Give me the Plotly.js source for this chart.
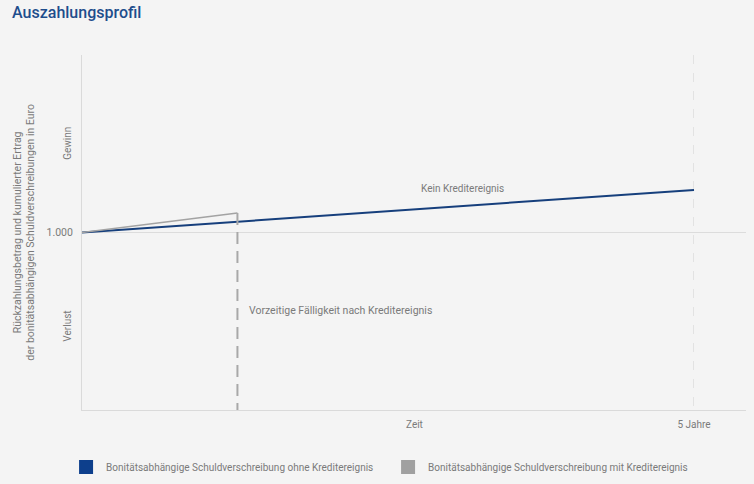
<!DOCTYPE html>
<html>
<head>
<meta charset="utf-8">
<script src="https://cdn.plot.ly/plotly-3.0.1.min.js"></script>
<style>html,body{margin:0;padding:0;background:#f4f4f4;}#chart{width:754px;height:484px;}</style>
</head>
<body>
<div id="chart"></div>
<script>
// Data
const years = [0, 5];
const noEventValues = [1000, 1240];
const eventYears = [0, 1.27];
const eventValues = [1000, 1110];
const earlyRedemptionYears = [1.27, 1.27];
const earlyRedemptionValues = [1110, 0];
const yTickVals = [1000];
const yTickText = ['1.000'];
const xTickVals = [5];
const xTickText = ['5 Jahre'];
const seriesNames = ['Bonitätsabhängige Schuldverschreibung ohne Kreditereignis', 'Bonitätsabhängige Schuldverschreibung mit Kreditereignis'];

const FONT = 'Roboto, Arial, sans-serif';
const BLUE = '#163f7c';
const GREY = '#a3a3a3';
const TXT = '#7a7a7a';

const traces = [
  {x: years, y: noEventValues, mode: 'lines', line: {color: BLUE, width: 2}, showlegend: false, hoverinfo: 'skip'},
  {x: eventYears, y: eventValues, mode: 'lines', line: {color: GREY, width: 1.6}, showlegend: false, hoverinfo: 'skip'},
  {x: earlyRedemptionYears, y: earlyRedemptionValues, mode: 'lines', line: {color: '#a8a8a8', width: 2, dash: '12px,7px'}, showlegend: false, hoverinfo: 'skip'},
  {x: [null], y: [null], mode: 'markers', name: seriesNames[0], marker: {symbol: 'square', size: 14, color: '#0d3f8c'}},
  {x: [null], y: [null], mode: 'markers', name: seriesNames[1], marker: {symbol: 'square', size: 14, color: '#a0a0a0'}}
];

const layout = {
  width: 754, height: 484,
  paper_bgcolor: '#f4f4f4', plot_bgcolor: '#f4f4f4',
  margin: {l: 82, r: 8, t: 55, b: 74, autoexpand: false},
  font: {family: FONT, color: TXT, size: 10},
  title: {text: 'Auszahlungsprofil', x: 0.016, xanchor: 'left', y: 0.985, yanchor: 'top',
          font: {family: 'Roboto, Arial, sans-serif', size: 16, color: '#1e4d8c', weight: 500}},
  xaxis: {range: [0, 5.425], tickvals: xTickVals, ticktext: xTickText, showgrid: true,
          gridcolor: '#e2e2e2', griddash: 'dash', gridwidth: 1, zeroline: false,
          showline: true, linecolor: '#dadada', linewidth: 1, ticks: '',
          ticklabelstandoff: 5,
          tickfont: {size: 10, color: TXT}, fixedrange: true},
  yaxis: {range: [0, 2000], tickvals: yTickVals, ticktext: yTickText, showgrid: true,
          gridcolor: '#dcdcdc', gridwidth: 1, zeroline: false,
          showline: true, linecolor: '#dadada', linewidth: 1, ticks: '',
          ticklabelstandoff: 6,
          tickfont: {size: 10.5, color: TXT}, fixedrange: true},
  legend: {orientation: 'h', x: -0.024, xanchor: 'left', y: -0.12, yanchor: 'top',
           entrywidth: 277, entrywidthmode: 'pixels', itemwidth: 30,
           font: {size: 10, color: TXT}, bgcolor: 'rgba(0,0,0,0)'},
  annotations: [
    {text: 'Kein Kreditereignis', x: 3.11, y: 1250, xref: 'x', yref: 'y', showarrow: false, font: {size: 10, color: TXT}},
    {text: 'Vorzeitige Fälligkeit nach Kreditereignis', x: 1.35, y: 560, xref: 'x', yref: 'y', xanchor: 'left', showarrow: false, font: {size: 10.5, color: TXT}},
    {text: 'Zeit', x: 0.5, y: -0.02, xref: 'paper', yref: 'paper', xanchor: 'center', yanchor: 'top', showarrow: false, font: {size: 10, color: TXT}},
    {text: 'Gewinn', x: -0.021, y: 1500, xref: 'paper', yref: 'y', xanchor: 'center', yanchor: 'middle', textangle: -90, showarrow: false, font: {size: 10, color: TXT}},
    {text: 'Verlust', x: -0.021, y: 470, xref: 'paper', yref: 'y', xanchor: 'center', yanchor: 'middle', textangle: -90, showarrow: false, font: {size: 10, color: TXT}},
    {text: 'Rückzahlungsbetrag und kumulierter Ertrag<br>der bonitätsabhängigen Schuldverschreibungen in Euro', x: -0.087, y: 1000, xref: 'paper', yref: 'y', xanchor: 'center', yanchor: 'middle', textangle: -90, showarrow: false, font: {size: 10.5, color: TXT}}
  ]
};

Plotly.newPlot('chart', traces, layout, {displayModeBar: false, staticPlot: true});
</script>
</body>
</html>
